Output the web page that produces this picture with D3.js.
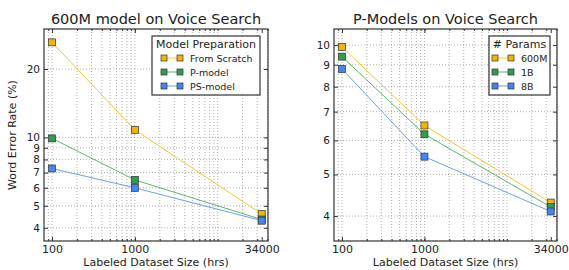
<!DOCTYPE html>
<html>
<head>
<meta charset="utf-8">
<script src="https://cdn.jsdelivr.net/npm/d3@7"></script>
<style>
  body { margin: 0; background: #fff; }
  svg text { font-family: "DejaVu Sans", sans-serif; fill: #222; }
</style>
</head>
<body>
<div id="area"></div>
<script>
const width = 569;
const height = 270;

// data
const hours = [100, 1000, 34000];
const xTickLabels = ["100", "1000", "34000"];

const prepNames = ["From Scratch", "P-model", "PS-model"];
const fromScratch = [26.2, 10.8, 4.6];
const pModel = [9.9, 6.5, 4.35];
const psModel = [7.3, 6.0, 4.3];

const paramNames = ["600M", "1B", "8B"];
const p600M = [9.9, 6.5, 4.3];
const p1B = [9.4, 6.2, 4.2];
const p8B = [8.8, 5.5, 4.1];

const leftYTicks = [4, 5, 6, 7, 8, 9, 10, 20];
const rightYTicks = [4, 5, 6, 7, 8, 9, 10];

const markerFill = ["#f4b400", "#2e9e4f", "#4285f4"];
const lineColor = ["#f7c52e", "#5cb56f", "#6a9ff5"];

const svg = d3
  .select("#area")
  .append("svg")
  .attr("width", width)
  .attr("height", height);

function drawPanel(opts) {
  const { left, right, top, bottom, yDomain, yTicks, title, series, names, legendTitle, legend } = opts;

  const x = d3.scaleLog().domain([80, 40500]).range([left, right]);
  const y = d3.scaleLog().domain(yDomain).range([bottom, top]);

  const g = svg.append("g");

  // grid lines: vertical at every log subdivision, horizontal at labeled ticks
  const xMinor = [];
  [10, 100, 1000, 10000].forEach((d) => {
    for (let k = 1; k < 10; k++) xMinor.push(d * k);
  });
  const xGrid = xMinor.filter((v) => v > 80 && v < 40500);
  g.selectAll(".vgrid")
    .data(xGrid)
    .join("line")
    .attr("x1", (d) => x(d))
    .attr("x2", (d) => x(d))
    .attr("y1", top)
    .attr("y2", bottom)
    .attr("stroke", "#999")
    .attr("stroke-width", 0.8)
    .attr("stroke-dasharray", "1,2");

  g.selectAll(".hgrid")
    .data(yTicks)
    .join("line")
    .attr("x1", left)
    .attr("x2", right)
    .attr("y1", (d) => y(d))
    .attr("y2", (d) => y(d))
    .attr("stroke", "#999")
    .attr("stroke-width", 0.8)
    .attr("stroke-dasharray", "1,2");

  // axes with inward ticks on all sides
  const tickFmt = (d) => d3.format("d")(d);
  const bottomAxis = d3.axisBottom(x).tickValues(hours).tickSize(-4).tickPadding(4)
    .tickFormat((d, i) => xTickLabels[i]);
  const leftAxis = d3.axisLeft(y).tickValues(yTicks).tickSize(-4).tickPadding(4).tickFormat(tickFmt);

  const bx = g.append("g").attr("transform", `translate(0,${bottom})`).call(bottomAxis);
  const lx = g.append("g").attr("transform", `translate(${left},0)`).call(leftAxis);
  g.append("g").attr("transform", `translate(0,${top})`)
    .call(d3.axisTop(x).tickValues(xGrid).tickSize(-2).tickFormat(""));
  g.append("g").attr("transform", `translate(0,${bottom})`)
    .call(d3.axisBottom(x).tickValues(xGrid).tickSize(-2).tickFormat(""));
  g.append("g").attr("transform", `translate(${right},0)`)
    .call(d3.axisRight(y).tickValues(yTicks).tickSize(-4).tickFormat(""));
  g.append("g").attr("transform", `translate(0,${top})`)
    .call(d3.axisTop(x).tickValues(hours).tickSize(-4).tickFormat(""));

  g.selectAll(".domain").remove();
  g.selectAll(".tick line").attr("stroke", "#333");
  bx.selectAll("text").attr("font-size", 11).attr("fill", "#222");
  lx.selectAll("text").attr("font-size", 10.5).attr("fill", "#222");

  // frame
  g.append("rect")
    .attr("x", left)
    .attr("y", top)
    .attr("width", right - left)
    .attr("height", bottom - top)
    .attr("fill", "none")
    .attr("stroke", "#333")
    .attr("stroke-width", 1.2);

  // lines and markers
  const line = d3.line().x((d, i) => x(hours[i])).y((d) => y(d));
  series.forEach((vals, s) => {
    g.append("path")
      .attr("d", line(vals))
      .attr("fill", "none")
      .attr("stroke", lineColor[s])
      .attr("stroke-width", 1);
  });
  series.forEach((vals, s) => {
    g.selectAll(null)
      .data(vals)
      .join("rect")
      .attr("x", (d, i) => x(hours[i]) - 3.5)
      .attr("y", (d) => y(d) - 3.5)
      .attr("width", 7)
      .attr("height", 7)
      .attr("fill", markerFill[s])
      .attr("stroke", "#333")
      .attr("stroke-width", 0.7);
  });

  // titles
  g.append("text")
    .attr("x", (left + right) / 2)
    .attr("y", top - 5)
    .attr("text-anchor", "middle")
    .attr("font-size", 14.5)
    .text(title);
  g.append("text")
    .attr("x", (left + right) / 2)
    .attr("y", bottom + 25)
    .attr("text-anchor", "middle")
    .attr("font-size", 11)
    .text("Labeled Dataset Size (hrs)");

  // legend
  const lg = g.append("g");
  lg.append("rect")
    .attr("x", legend.x)
    .attr("y", legend.y)
    .attr("width", legend.w)
    .attr("height", legend.h)
    .attr("fill", "#fff")
    .attr("stroke", "#333")
    .attr("stroke-width", 1.2);
  lg.append("text")
    .attr("x", legend.x + legend.w / 2)
    .attr("y", legend.y + 12)
    .attr("text-anchor", "middle")
    .attr("font-size", 11)
    .text(legendTitle);
  names.forEach((name, s) => {
    const yy = legend.y + 22 + s * 14;
    lg.append("line")
      .attr("x1", legend.mx)
      .attr("x2", legend.mx + 16)
      .attr("y1", yy)
      .attr("y2", yy)
      .attr("stroke", lineColor[s])
      .attr("stroke-width", 1);
    [legend.mx, legend.mx + 16].forEach((mx) => {
      lg.append("rect")
        .attr("x", mx - 3)
        .attr("y", yy - 3)
        .attr("width", 6)
        .attr("height", 6)
        .attr("fill", markerFill[s])
        .attr("stroke", "#333")
        .attr("stroke-width", 0.7);
    });
    lg.append("text")
      .attr("x", legend.mx + 26)
      .attr("y", yy + 3.5)
      .attr("font-size", 9.5)
      .text(name);
  });
}

drawPanel({
  left: 44, right: 268, top: 29, bottom: 241,
  yDomain: [3.5, 30], yTicks: leftYTicks,
  title: "600M model on Voice Search",
  series: [fromScratch, pModel, psModel],
  names: prepNames,
  legendTitle: "Model Preparation",
  legend: { x: 152, y: 36, w: 108, h: 59, mx: 164 },
});

drawPanel({
  left: 334, right: 557, top: 29, bottom: 241,
  yDomain: [3.5, 10.9], yTicks: rightYTicks,
  title: "P-Models on Voice Search",
  series: [p600M, p1B, p8B],
  names: paramNames,
  legendTitle: "# Params",
  legend: { x: 489, y: 36, w: 61, h: 59, mx: 495 },
});

svg.append("text")
  .attr("transform", "translate(16,135) rotate(-90)")
  .attr("text-anchor", "middle")
  .attr("font-size", 11)
  .text("Word Error Rate (%)");
</script>
</body>
</html>
